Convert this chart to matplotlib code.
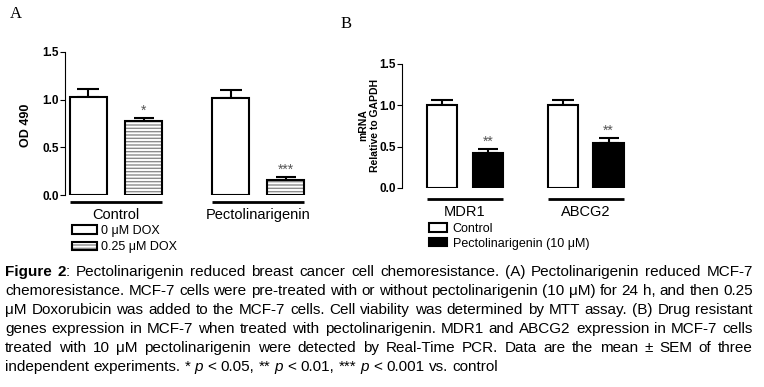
"""
Figure 2: pectolinarigenin and chemoresistance (two bar panels + caption)
"""
import re
import numpy as np
import matplotlib
matplotlib.use("Agg")
import matplotlib.pyplot as plt
from matplotlib import font_manager
from matplotlib.patches import Patch

W, H = 764, 387

# Panel A: MTT assay, OD 490
groups_a = ["Control", "Pectolinarigenin"]
legend_a = ["0 \u03bcM DOX", "0.25 \u03bcM DOX"]
od_nodox = [1.03, 1.02]
od_nodox_sem = [0.08, 0.08]
od_dox = [0.78, 0.16]
od_dox_sem = [0.03, 0.025]
stars_a = ["*", "***"]

# Panel B: mRNA relative to GAPDH
groups_b = ["MDR1", "ABCG2"]
legend_b = ["Control", "Pectolinarigenin (10 \u03bcM)"]
mrna_ctrl = [1.0, 1.0]
mrna_ctrl_sem = [0.07, 0.06]
mrna_pect = [0.42, 0.54]
mrna_pect_sem = [0.05, 0.06]
stars_b = ["**", "**"]

yticks = [0.0, 0.5, 1.0, 1.5]

CAPTION = [
    "[b]Figure[/b] [b]2[/b]: Pectolinarigenin reduced breast cancer cell chemoresistance. (A) Pectolinarigenin reduced MCF-7",
    "chemoresistance. MCF-7 cells were pre-treated with or without pectolinarigenin (10 \u03bcM) for 24 h, and then 0.25",
    "\u03bcM Doxorubicin was added to the MCF-7 cells. Cell viability was determined by MTT assay. (B) Drug resistant",
    "genes expression in MCF-7 when treated with pectolinarigenin. MDR1 and ABCG2 expression in MCF-7 cells",
    "treated with 10 \u03bcM pectolinarigenin were detected by Real-Time PCR. Data are the mean \u00b1 SEM of three",
    "independent experiments. * [i]p[/i] < 0.05, ** [i]p[/i] < 0.01, *** [i]p[/i] < 0.001 vs. control",
]

installed = {f.name for f in font_manager.fontManager.ttflist}
SANS = "Liberation Sans"
NARROW = "Liberation Sans Narrow" if "Liberation Sans Narrow" in installed else SANS
plt.rcParams["font.family"] = [SANS, "DejaVu Sans"]

fig = plt.figure(figsize=(W / 100, H / 100), dpi=100)
fig.patch.set_facecolor("white")


def px_axes(left, top, right, bottom):
    return fig.add_axes([left / W, 1 - bottom / H, (right - left) / W,
                         (bottom - top) / H])


def fx(x):
    return x / W


def fy(y):
    return 1 - y / H


def style_axis(ax):
    for side in ["top", "right", "bottom"]:
        ax.spines[side].set_visible(False)
    ax.spines["left"].set_linewidth(0.8)
    ax.set_ylim(0, 1.5)
    ax.set_yticks(yticks)
    ax.set_yticklabels(["{:.1f}".format(t) for t in yticks],
                       fontsize=8.5, fontweight="bold")
    ax.tick_params(axis="y", length=3.5, width=0.8, pad=1)
    ax.set_xticks([])
    ax.patch.set_alpha(0)


def draw_panel(ax, groups, v1, e1, v2, e2, stars, width, off, hatched,
               line_y, label_y):
    x = np.arange(len(groups))
    ax.bar(x - off, v1, width, color="white", edgecolor="black",
           linewidth=1.5, zorder=3)
    ax.errorbar(x - off, v1, yerr=[np.zeros(len(v1)), e1], fmt="none",
                ecolor="black", elinewidth=1.5, capsize=8, capthick=1.5,
                zorder=2)
    if hatched:
        ax.bar(x + off, v2, width, color="white", edgecolor="#8c8c8c",
               hatch="-----", linewidth=0, zorder=3)
        ax.bar(x + off, v2, width, fill=False, edgecolor="black",
               linewidth=1.5, zorder=4)
    else:
        ax.bar(x + off, v2, width, color="black", edgecolor="black",
               linewidth=1.5, zorder=3)
    ax.errorbar(x + off, v2, yerr=[np.zeros(len(v2)), e2], fmt="none",
                ecolor="black", elinewidth=1.5, capsize=7, capthick=1.5,
                zorder=2)
    for xi, top, s in zip(x + off, np.array(v2) + np.array(e2), stars):
        ax.text(xi, top + 0.005, s, ha="center", va="bottom", fontsize=10,
                color="#555555")
    tr = ax.get_xaxis_transform()
    for xi, name in zip(x, groups):
        ax.plot([xi - off - width / 2, xi + off + width / 2],
                [line_y, line_y], color="black", linewidth=2,
                transform=tr, clip_on=False, solid_capstyle="butt")
        ax.text(xi, label_y, name, ha="center", va="center", fontsize=10.5,
                transform=tr)


# Panel A
ax_a = px_axes(65, 52, 322, 195)
style_axis(ax_a)
ax_a.set_xlim(-0.359, 1.45)
draw_panel(ax_a, groups_a, od_nodox, od_nodox_sem, od_dox, od_dox_sem,
           stars_a, 0.26, 0.194, True, -0.05, -0.14)
fig.text(fx(26), fy(125), "OD 490", rotation=90, ha="center", va="center",
         fontsize=9, fontweight="bold")
fig.text(fx(16), fy(14), "A", family="Liberation Serif", fontsize=12,
         ha="center", va="center")

h_white = Patch(facecolor="white", edgecolor="black", linewidth=1.5)
h_hatch = (Patch(facecolor="white", edgecolor="#8c8c8c", hatch="-----",
                 linewidth=0),
           Patch(fill=False, edgecolor="black", linewidth=1.5))
fig.legend([h_white, h_hatch], legend_a, loc="upper left",
           bbox_to_anchor=(fx(72), fy(225)), frameon=False, fontsize=9,
           handlelength=2.0, handleheight=0.7, handletextpad=0.3,
           labelspacing=0.35, borderpad=0, borderaxespad=0)

# Panel B
ax_b = px_axes(402, 64, 640, 188)
style_axis(ax_b)
ax_b.set_xlim(-0.52, 1.45)
draw_panel(ax_b, groups_b, mrna_ctrl, mrna_ctrl_sem, mrna_pect,
           mrna_pect_sem, stars_b, 0.25, 0.19, False, -0.089, -0.19)
fig.text(fx(369), fy(125), "mRNA\nRelative to GAPDH", rotation=90,
         ha="center", va="center", fontsize=7.5, fontweight="bold",
         linespacing=1.15, multialignment="center")
fig.text(fx(346), fy(24), "B", family="Liberation Serif", fontsize=12,
         ha="center", va="center")

h_black = Patch(facecolor="black", edgecolor="black", linewidth=1.5)
fig.legend([h_white, h_black], legend_b, loc="upper left",
           bbox_to_anchor=(fx(429), fy(223)), frameon=False, fontsize=9,
           handlelength=1.45, handleheight=0.65, handletextpad=0.45,
           labelspacing=0.2, borderpad=0, borderaxespad=0)

# Caption, justified word by word
renderer = fig.canvas.get_renderer()
CAP_SIZE = 11
CAP_LEFT, CAP_RIGHT = 5, 753
CAP_TOP, CAP_STEP = 272, 19


def parse_words(line):
    words = []
    for raw in line.split(" "):
        segs = []
        for m in re.finditer(r"\[(b|i)\](.*?)\[/\1\]|([^\[]+)", raw):
            if m.group(3):
                segs.append((m.group(3), "n"))
            else:
                segs.append((m.group(2), m.group(1)))
        words.append(segs)
    return words


def seg_text(x, y, txt, st):
    return fig.text(fx(x), fy(y), txt, fontsize=CAP_SIZE,
                    family=[NARROW, "DejaVu Sans"],
                    fontweight="bold" if st == "b" else "normal",
                    fontstyle="italic" if st == "i" else "normal",
                    ha="left", va="center")


def seg_width(txt, st):
    t = seg_text(0, -100, txt, st)
    w = t.get_window_extent(renderer).width
    t.remove()
    return w


space_w = seg_width("a a", "n") - seg_width("aa", "n")

for i, line in enumerate(CAPTION):
    y = CAP_TOP + i * CAP_STEP
    words = parse_words(line)
    widths = [[seg_width(t, s) for t, s in w] for w in words]
    total = sum(sum(w) for w in widths)
    if i < len(CAPTION) - 1 and len(words) > 1:
        gap = (CAP_RIGHT - CAP_LEFT - total) / (len(words) - 1)
    else:
        gap = space_w
    x = CAP_LEFT
    for segs, ws in zip(words, widths):
        for (t, s), w in zip(segs, ws):
            seg_text(x, y, t, s)
            x += w
        x += gap

fig.savefig("out.png", dpi=100, facecolor="white")
